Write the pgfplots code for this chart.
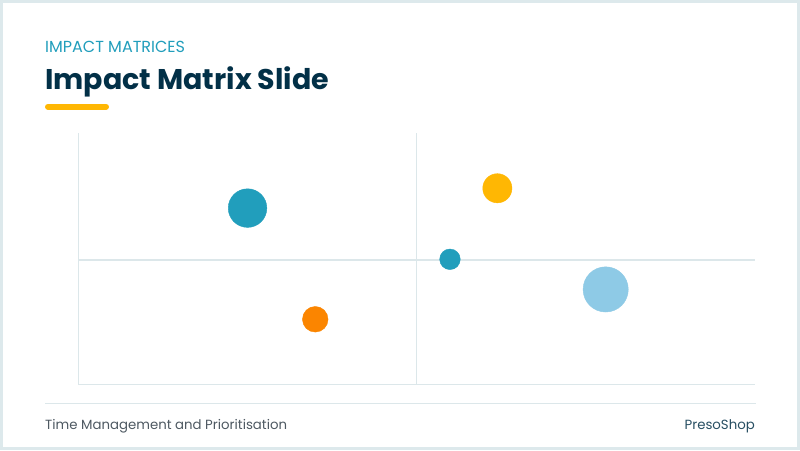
\documentclass[border=0pt]{standalone}
\usepackage{fontspec}
\setmainfont{Poppins}
\usepackage{pgfplots}
\pgfplotsset{compat=1.18}
\definecolor{navy}{HTML}{023047}
\definecolor{teal}{HTML}{219EBC}
\definecolor{skyb}{HTML}{8ECAE6}
\definecolor{gold}{HTML}{FFB703}
\definecolor{orng}{HTML}{FB8500}
\definecolor{rule}{HTML}{DCE7EA}
\definecolor{frame}{HTML}{DDE9EC}
\definecolor{foot}{HTML}{4E5962}
\begin{document}
\begin{tikzpicture}[x=1pt,y=1pt]
\useasboundingbox (0,0) rectangle (800,450);
\fill[white] (0,0) rectangle (800,450);
\draw[frame, line width=3pt] (1.5,1.5) rectangle (798.5,448.5);
% header
\node[anchor=base west, inner sep=0pt, text=teal] at (45,397.7)
  {\fontsize{16}{19}\selectfont IMPACT MATRICES};
\node[anchor=base west, inner sep=0pt, text=navy] at (45,360.7)
  {\fontsize{28.5}{34}\selectfont\bfseries Impact Matrix Slide};
\draw[gold, line width=6pt, line cap=round] (48,343.3) -- (106,343.3);
% footer
\draw[rule, line width=1.5pt] (45,46.5) -- (756,46.5);
\node[anchor=base west, inner sep=0pt, text=foot] at (45,21)
  {\fontsize{13.3}{16}\selectfont Time Management and Prioritisation};
\node[anchor=base east, inner sep=0pt, text=navy!85] at (755,20.5)
  {\fontsize{13.3}{16}\selectfont PresoShop};
\begin{axis}[
    at={(78.3pt,65.7pt)}, anchor=south west,
    width=677pt, height=251pt, scale only axis,
    xmin=0, xmax=10, ymin=0, ymax=10,
    axis x line*=bottom, axis y line*=left,
    axis line style={rule, line width=1.5pt, -},
    ticks=none,
    clip=false,
]
\draw[rule, line width=1.2pt] (axis cs:5,0) -- (axis cs:5,10);
\draw[rule, line width=1.2pt] (axis cs:0,4.95) -- (axis cs:10,4.95);
\addplot[only marks, mark=*, color=teal, mark size=19.3pt] coordinates {(2.50,7.02)};
\addplot[only marks, mark=*, color=orng, mark size=12.8pt] coordinates {(3.50,2.59)};
\addplot[only marks, mark=*, color=teal, mark size=10.3pt] coordinates {(5.49,4.98)};
\addplot[only marks, mark=*, color=gold, mark size=14.6pt] coordinates {(6.19,7.81)};
\addplot[only marks, mark=*, color=skyb, mark size=22.6pt] coordinates {(7.79,3.78)};
\end{axis}
\end{tikzpicture}
\end{document}
